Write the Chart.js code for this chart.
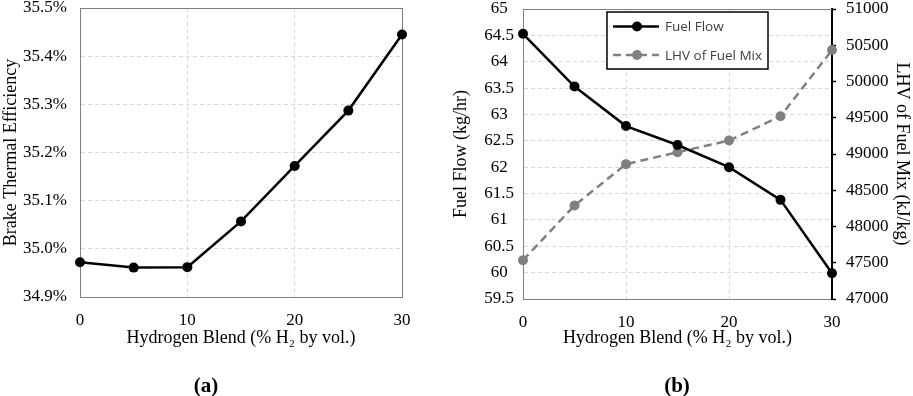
<!DOCTYPE html>
<html>
<head>
<meta charset="utf-8">
<script src="https://cdn.jsdelivr.net/npm/chart.js@4.4.1/dist/chart.umd.min.js"></script>
<style>
  body { margin: 0; background: #fff; width: 913px; height: 396px; position: relative; overflow: hidden; }
  canvas { position: absolute; top: 0; }
  #chartA { left: 0; }
  #chartB { left: 440px; }
  .tag { position: absolute; font: bold 21px "Liberation Serif", serif; transform: translate(-50%, -50%); }
</style>
</head>
<body>
<canvas id="chartA" width="440" height="396"></canvas>
<canvas id="chartB" width="473" height="396"></canvas>
<div class="tag" style="left:206px; top:385px">(a)</div>
<div class="tag" style="left:677px; top:385px">(b)</div>
<script>
// donnees
const blend = [0, 5, 10, 15, 20, 25, 30];          // % H2 by vol.
const bte = [34.972, 34.961, 34.962, 35.057, 35.172, 35.287, 35.445];   // %
const fuelFlow = [64.53, 63.53, 62.78, 62.42, 62.0, 61.38, 59.99];      // kg/hr
const lhv = [47535, 48290, 48860, 49025, 49185, 49520, 50435];          // kJ/kg
const blendTicks = [0, 10, 20, 30];

const xTitle = 'Hydrogen Blend (% H\u2082 by vol.)';
const serif = { family: '"Liberation Serif", "Times New Roman", serif', size: 17 };
const serifTitle = { family: '"Liberation Serif", "Times New Roman", serif', size: 18 };
const gridGray = '#d9d9d9';
const axisGray = '#808080';

const points = ys => blend.map((x, i) => ({ x: x, y: ys[i] }));

// cadre du haut (et de droite) autour de la zone du graphe
const frame = {
  id: 'frame',
  beforeDatasetsDraw(chart, args, opts) {
    const { ctx, chartArea: a } = chart;
    ctx.save();
    ctx.strokeStyle = opts.color;
    ctx.lineWidth = 1;
    ctx.beginPath();
    ctx.moveTo(a.left, Math.round(a.top) + 0.5);
    ctx.lineTo(a.right, Math.round(a.top) + 0.5);
    if (opts.right) {
      ctx.moveTo(Math.round(a.right) + 0.5, a.top);
      ctx.lineTo(Math.round(a.right) + 0.5, a.bottom);
    }
    ctx.stroke();
    ctx.restore();
  }
};

// legende encadree, dans la zone du graphe
const boxLegend = {
  id: 'boxLegend',
  afterDatasetsDraw(chart, args, opts) {
    if (!opts.show) return;
    const { ctx, chartArea: a } = chart;
    const x = a.left + opts.x, y = a.top + opts.y;
    ctx.save();
    ctx.fillStyle = '#fff';
    ctx.fillRect(x, y, opts.w, opts.h);
    ctx.strokeStyle = '#000';
    ctx.lineWidth = 1.5;
    ctx.strokeRect(x, y, opts.w, opts.h);
    chart.data.datasets.forEach((ds, i) => {
      const cy = y + 14.5 + i * 28.5;
      ctx.strokeStyle = ds.borderColor;
      ctx.lineWidth = ds.borderWidth;
      ctx.setLineDash(ds.borderDash || []);
      ctx.beginPath();
      ctx.moveTo(x + 6, cy);
      ctx.lineTo(x + 52, cy);
      ctx.stroke();
      ctx.setLineDash([]);
      ctx.fillStyle = ds.pointBackgroundColor;
      ctx.beginPath();
      ctx.arc(x + 30, cy, ds.pointRadius, 0, Math.PI * 2);
      ctx.fill();
      ctx.fillStyle = '#404040';
      ctx.font = '13.5px "Open Sans", sans-serif';
      ctx.textBaseline = 'middle';
      ctx.fillText(ds.label, x + 58, cy + 1);
    });
    ctx.restore();
  }
};

const xScale = (height) => ({
  type: 'linear',
  min: 0,
  max: 30,
  afterBuildTicks: s => { s.ticks = blendTicks.map(v => ({ value: v })); },
  grid: { color: gridGray, drawTicks: false },
  border: { color: axisGray, width: 1, dash: [4, 3] },
  ticks: { padding: 13, color: '#000', font: serif },
  title: { display: true, text: xTitle, color: '#000', font: serifTitle, padding: { top: 0, bottom: 47 } },
  afterFit: s => { s.height = height; }
});

// (a) rendement
new Chart(document.getElementById('chartA'), {
  type: 'line',
  data: {
    datasets: [{
      label: 'Brake Thermal Efficiency',
      data: points(bte),
      borderColor: '#000',
      backgroundColor: '#000',
      pointBackgroundColor: '#000',
      borderWidth: 2.5,
      pointRadius: 5,
      pointBorderWidth: 0,
      tension: 0,
      clip: false
    }]
  },
  options: {
    responsive: false,
    animation: false,
    layout: { padding: { top: 8, right: 38, left: 0, bottom: 0 } },
    plugins: {
      legend: { display: false },
      tooltip: { enabled: false },
      frame: { color: axisGray, right: true }
    },
    scales: {
      x: xScale(99),
      y: {
        min: 34.9,
        max: 35.5,
        grid: { color: gridGray, drawTicks: false },
        border: { color: axisGray, width: 1, dash: [4, 3] },
        ticks: { stepSize: 0.1, padding: 13, color: '#000', font: serif, callback: v => v.toFixed(1) + '%' },
        title: { display: true, text: 'Brake Thermal Efficiency', color: '#000', font: serifTitle, padding: { top: 0, bottom: 0 } },
        afterFit: s => { s.width = 80; s.paddingTop = 0; s.paddingBottom = 0; }
      }
    }
  },
  plugins: [frame]
});

// (b) debit et PCI
new Chart(document.getElementById('chartB'), {
  type: 'line',
  data: {
    datasets: [{
      label: 'Fuel Flow',
      data: points(fuelFlow),
      yAxisID: 'y',
      borderColor: '#000',
      backgroundColor: '#000',
      pointBackgroundColor: '#000',
      borderWidth: 2.5,
      pointRadius: 5,
      pointBorderWidth: 0,
      tension: 0,
      clip: false
    }, {
      label: 'LHV of Fuel Mix',
      data: points(lhv),
      yAxisID: 'y1',
      borderColor: '#808080',
      backgroundColor: '#808080',
      pointBackgroundColor: '#808080',
      borderWidth: 2.5,
      borderDash: [8, 5],
      pointRadius: 5,
      pointBorderWidth: 0,
      tension: 0,
      clip: false
    }]
  },
  options: {
    responsive: false,
    animation: false,
    layout: { padding: { top: 9, right: 0, left: 0, bottom: 0 } },
    plugins: {
      legend: { display: false },
      tooltip: { enabled: false },
      frame: { color: axisGray, right: false },
      boxLegend: { show: true, x: 84, y: 3, w: 161, h: 57 }
    },
    scales: {
      x: xScale(97),
      y: {
        position: 'left',
        min: 59.5,
        max: 65,
        grid: { color: gridGray, drawTicks: false },
        border: { color: axisGray, width: 1, dash: [4, 3] },
        ticks: { stepSize: 0.5, padding: 9, crossAlign: 'center', color: '#000', font: serif, callback: v => String(v) },
        title: { display: true, text: 'Fuel Flow (kg/hr)', color: '#000', font: serifTitle, padding: { top: 10, bottom: 0 } },
        afterFit: s => { s.width = 83; s.paddingTop = 0; s.paddingBottom = 0; }
      },
      y1: {
        position: 'right',
        min: 47000,
        max: 51000,
        grid: { drawOnChartArea: false, drawTicks: true, tickLength: 4, tickColor: '#000', tickWidth: 1.5 },
        border: { color: '#000', width: 2 },
        ticks: { stepSize: 500, padding: 10, color: '#000', font: serif, callback: v => String(v) },
        title: { display: true, text: 'LHV of Fuel Mix (kJ/kg)', color: '#000', font: serifTitle, padding: { top: 0, bottom: 0 } },
        afterFit: s => { s.width = 81; s.paddingTop = 0; s.paddingBottom = 0; }
      }
    }
  },
  plugins: [frame, boxLegend]
});
</script>
</body>
</html>
